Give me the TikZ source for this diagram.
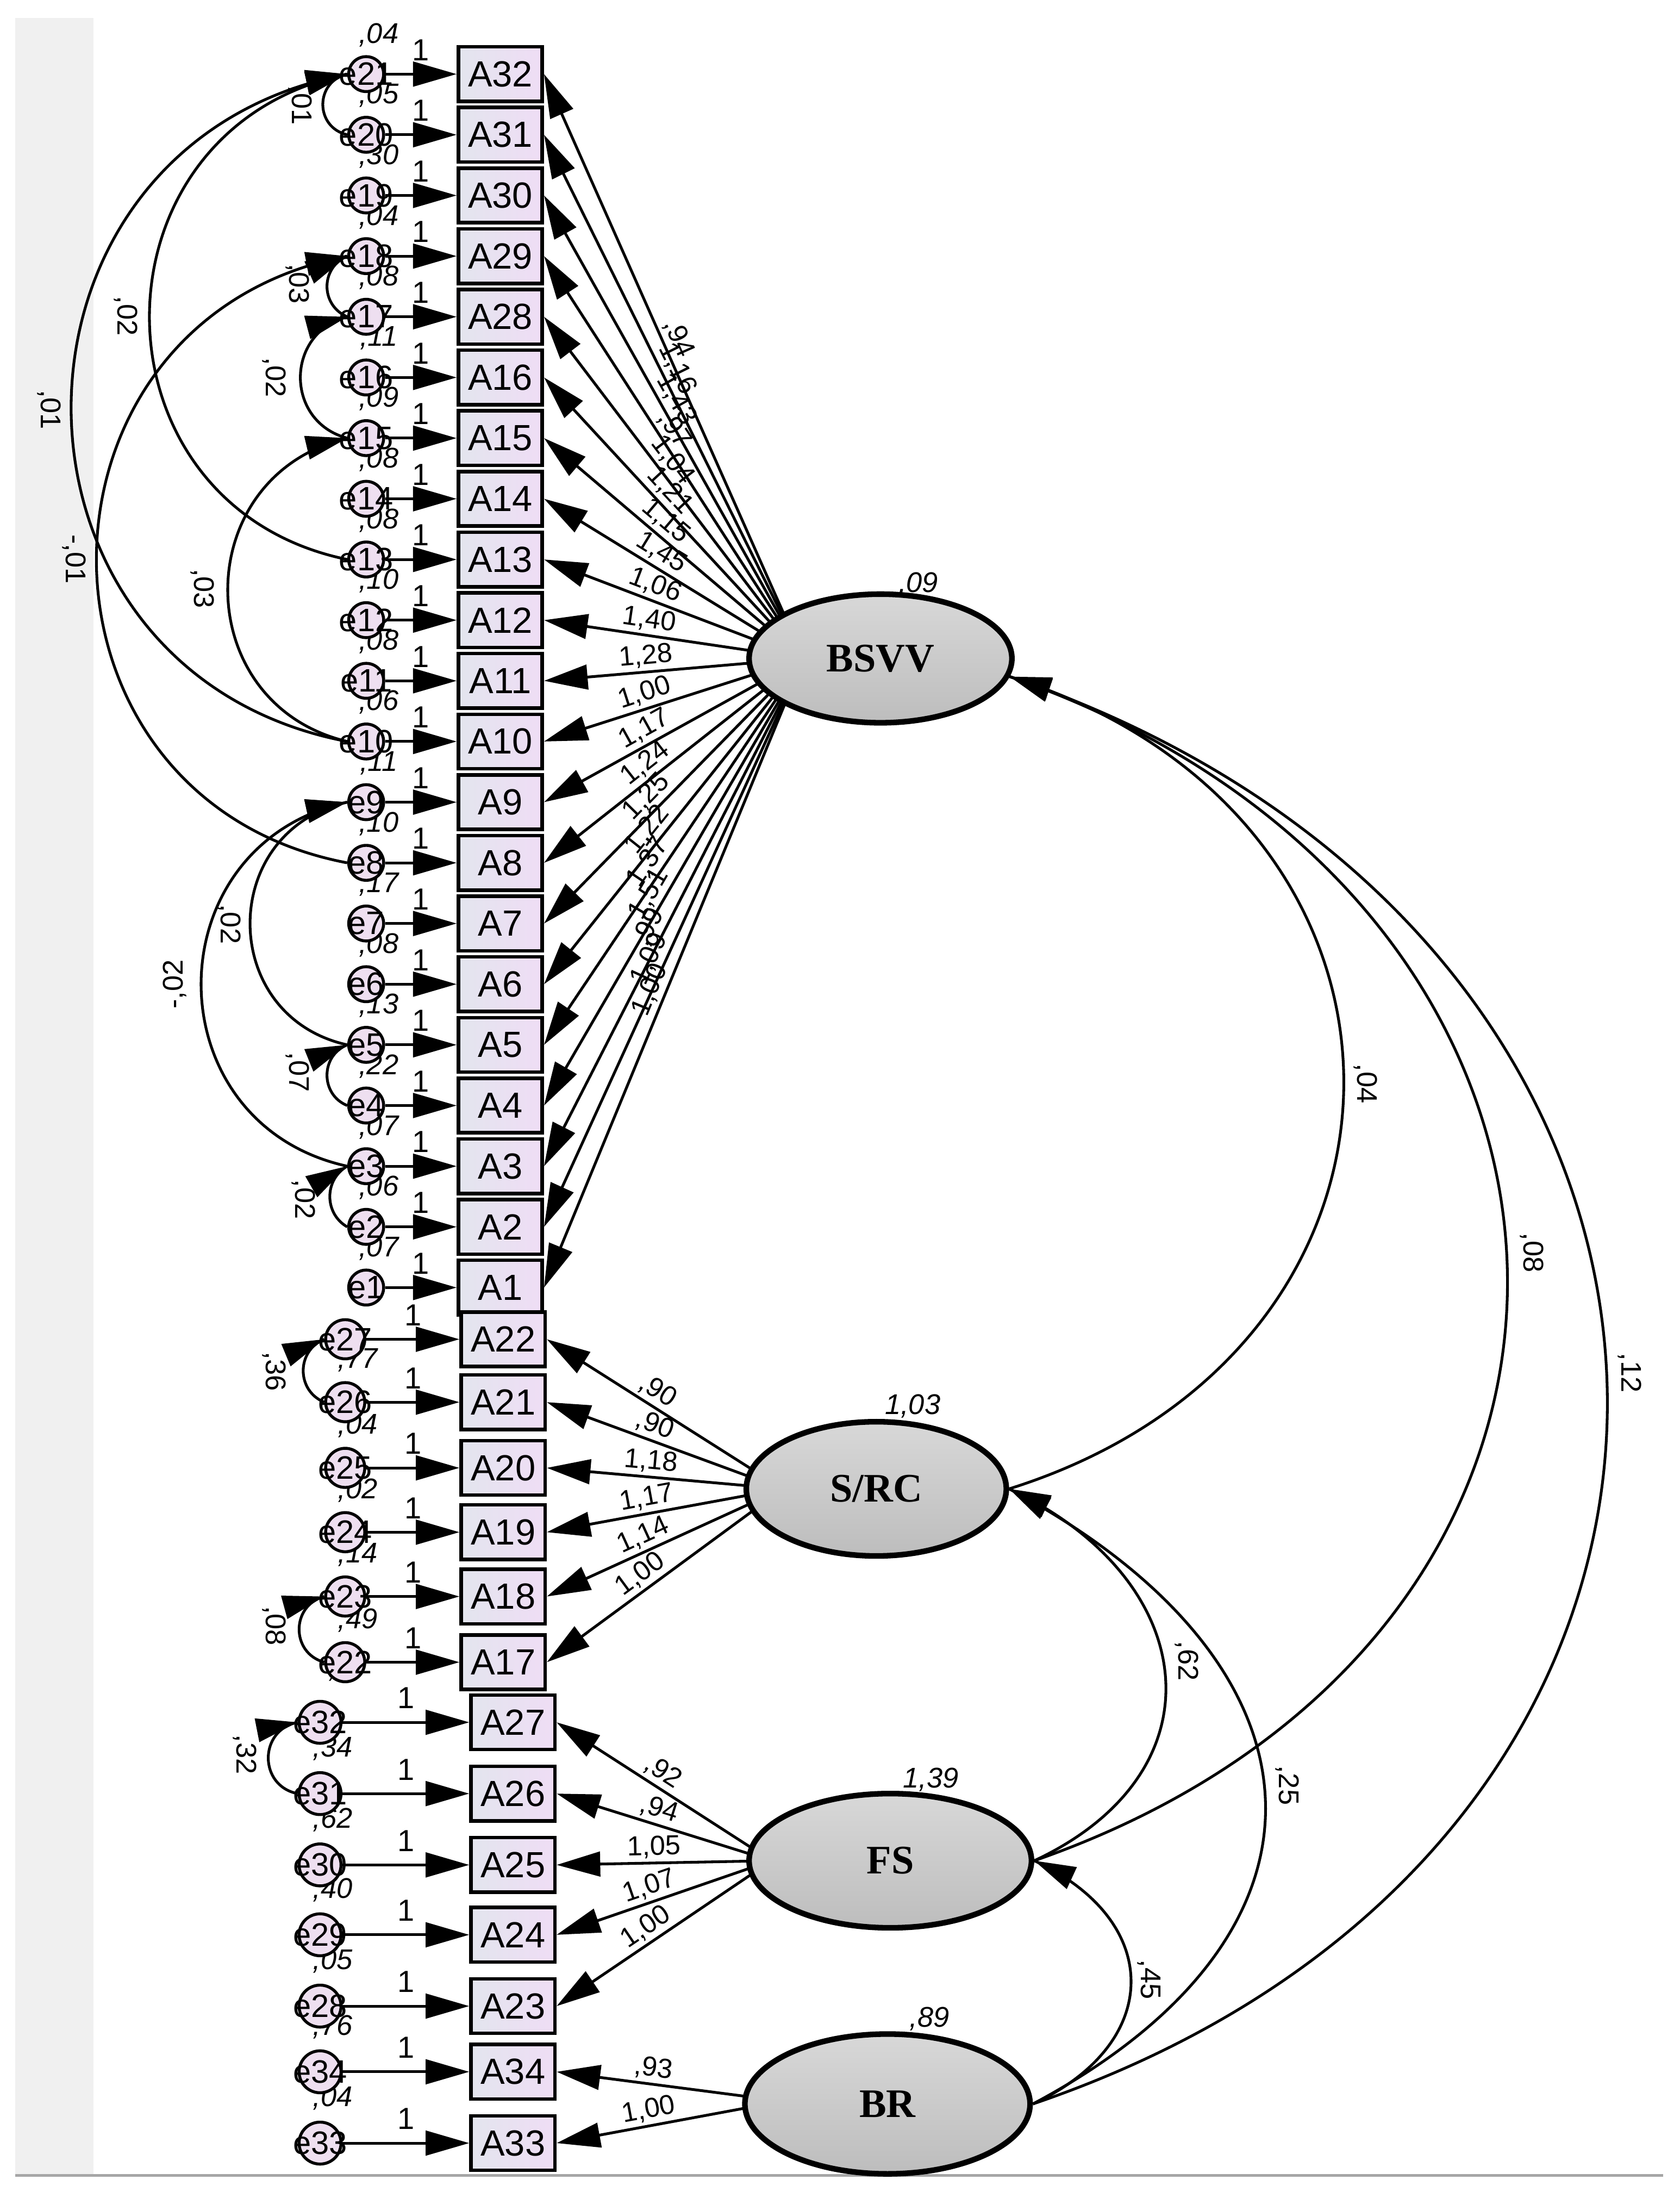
\documentclass[tikz,border=0pt]{standalone}
\usepackage{fontspec}
\setmainfont{Liberation Sans}
\newfontfamily\lserif{Liberation Serif}
\usetikzlibrary{arrows.meta,shapes.geometric,decorations.markings}
\pgfdeclarelayer{bg}
\pgfsetlayers{bg,main}
\definecolor{stripgray}{HTML}{F0F0F0}
\definecolor{boxL}{HTML}{E3E5EE}
\definecolor{boxR}{HTML}{EFDDF5}
\definecolor{errfill}{HTML}{EEDFF0}
\definecolor{latTop}{HTML}{D8D8D8}
\definecolor{latBot}{HTML}{BDBDBD}
\newcommand\fsz[1]{\fontsize{#1}{#1}\selectfont}
% #1 box, #2 error, #3 box x, #4 y, #5 circle x, #6 circle size, #7 variance, #8 variance dy
\newcommand\obsrow[8]{%
  \node[obsbox] (#1) at (#3,#4) {#1};
  \begin{pgfonlayer}{bg}\node[varlab] at (#5+9,#4-#8) {#7};\end{pgfonlayer}
  \node[errc, minimum size=#6] (#2) at (#5,#4) {};
  \node[errtxt] at (#5,#4) {#2};
  \draw[arr] (#2) -- (#1) node[onelab] {1};
}
\tikzset{
  tipA/.tip={Triangle[length=0.78cm,width=0.44cm]},
  arr/.style={line width=1.4pt,-{tipA}},
  obsbox/.style={draw,line width=1.8pt,minimum width=1.5cm,minimum height=0.975cm,inner sep=0pt,
     left color=boxL,right color=boxR,font=\fsz{18.5pt}},
  errc/.style={circle,draw,line width=1.5pt,fill=errfill,inner sep=0pt},
  errtxt/.style={font=\fsz{16.5pt},inner sep=0pt},
  varlab/.style={font=\fsz{14.5pt}\itshape,inner sep=0pt},
  onelab/.style={font=\fsz{15.5pt},anchor=south,inner sep=0pt,yshift=0.22cm,pos=0.5},
  loadlab/.style={font=\fsz{14pt},sloped,above,inner sep=1.5pt},
  latent/.style={ellipse,draw,line width=2.85pt,top color=latTop,bottom color=latBot,
     font=\lserif\bfseries\fsz{20.6pt},inner sep=0pt},
  covlab/.style={font=\fsz{14.5pt},inner sep=0pt},
  cov/.style={line width=1.4pt,postaction={decorate},
     decoration={markings,
       mark=at position 0 with {\arrowreversed{Triangle[length=0.74cm,width=0.42cm]}},
       mark=at position 1 with {\arrow{Triangle[length=0.74cm,width=0.42cm]}}}}
}
\begin{document}
\begin{tikzpicture}[x=0.025cm,y=-0.025cm]
\useasboundingbox (0,0) rectangle (1202,1568);
\fill[stripgray] (11,13) rectangle (67,1556);
\draw[gray!70,line width=1.4pt] (11,1556) -- (1190,1556);

% ---- BSVV indicators
\obsrow{A32}{e21}{358}{53}{262}{0.625cm}{,04}{28}
\obsrow{A31}{e20}{358}{96.4}{262}{0.625cm}{,05}{28}
\obsrow{A30}{e19}{358}{139.8}{262}{0.625cm}{,30}{28}
\obsrow{A29}{e18}{358}{183.2}{262}{0.625cm}{,04}{28}
\obsrow{A28}{e17}{358}{226.6}{262}{0.625cm}{,08}{28}
\obsrow{A16}{e16}{358}{270}{262}{0.625cm}{,11}{28}
\obsrow{A15}{e15}{358}{313.4}{262}{0.625cm}{,09}{28}
\obsrow{A14}{e14}{358}{356.8}{262}{0.625cm}{,08}{28}
\obsrow{A13}{e13}{358}{400.2}{262}{0.625cm}{,08}{28}
\obsrow{A12}{e12}{358}{443.6}{262}{0.625cm}{,10}{28}
\obsrow{A11}{e11}{358}{487}{262}{0.625cm}{,08}{28}
\obsrow{A10}{e10}{358}{530.4}{262}{0.625cm}{,06}{28}
\obsrow{A9}{e9}{358}{573.8}{262}{0.625cm}{,11}{28}
\obsrow{A8}{e8}{358}{617.2}{262}{0.625cm}{,10}{28}
\obsrow{A7}{e7}{358}{660.6}{262}{0.625cm}{,17}{28}
\obsrow{A6}{e6}{358}{704}{262}{0.625cm}{,08}{28}
\obsrow{A5}{e5}{358}{747.4}{262}{0.625cm}{,13}{28}
\obsrow{A4}{e4}{358}{790.8}{262}{0.625cm}{,22}{28}
\obsrow{A3}{e3}{358}{834.2}{262}{0.625cm}{,07}{28}
\obsrow{A2}{e2}{358}{877.6}{262}{0.625cm}{,06}{28}
\obsrow{A1}{e1}{358}{921}{262}{0.625cm}{,07}{28}
% ---- S/RC indicators
\obsrow{A22}{e27}{360}{958}{247}{0.7cm}{,}{30}
\obsrow{A21}{e26}{360}{1003}{247}{0.7cm}{,77}{30}
\obsrow{A20}{e25}{360}{1050}{247}{0.7cm}{,04}{30}
\obsrow{A19}{e24}{360}{1096}{247}{0.7cm}{,02}{30}
\obsrow{A18}{e23}{360}{1142}{247}{0.7cm}{,14}{30}
\obsrow{A17}{e22}{360}{1189}{247}{0.7cm}{,49}{30}
% ---- FS and BR indicators
\obsrow{A27}{e32}{367}{1232}{229}{0.75cm}{,}{32}
\obsrow{A26}{e31}{367}{1283}{229}{0.75cm}{,34}{32}
\obsrow{A25}{e30}{367}{1334}{229}{0.75cm}{,62}{32}
\obsrow{A24}{e29}{367}{1384}{229}{0.75cm}{,40}{32}
\obsrow{A23}{e28}{367}{1435}{229}{0.75cm}{,05}{32}
\obsrow{A34}{e34}{367}{1482}{229}{0.75cm}{,76}{32}
\obsrow{A33}{e33}{367}{1533}{229}{0.75cm}{,04}{32}

% ---- loadings
\coordinate (sB) at (575,471);
\coordinate (sS) at (560,1065);
\coordinate (sF) at (552,1331);
\coordinate (sR) at (560,1503);
\foreach \b/\p/\t in {A32/0.537/{,94},A31/0.54/{1,16},A30/0.543/{1,43},A29/0.548/{,97},
  A28/0.553/{1,04},A16/0.56/{1,21},A15/0.57/{1,15},A14/0.58/{1,45},A13/0.593/{1,06},
  A12/0.603/{1,40},A11/0.603/{1,28},A10/0.595/{1,00},A9/0.585/{1,17},A8/0.573/{1,24},
  A7/0.563/{1,25},A6/0.555/{1,22},A5/0.55/{1,37},A4/0.545/{1,51},A3/0.543/{,99},
  A2/0.54/{1,09},A1/0.536/{1,00}}
  \draw[arr] (sB) -- (\b.east) node[loadlab,pos=\p] {\t};
\foreach \b/\t in {A22/{,90},A21/{,90},A20/{1,18},A19/{1,17},A18/{1,14},A17/{1,00}}
  \draw[arr] (sS) -- (\b.east) node[loadlab,pos=0.565] {\t};
\foreach \b/\t in {A27/{,92},A26/{,94},A25/{1,05},A24/{1,07},A23/{1,00}}
  \draw[arr] (sF) -- (\b.east) node[loadlab,pos=0.545] {\t};
\foreach \b/\t in {A34/{,93},A33/{1,00}}
  \draw[arr] (sR) -- (\b.east) node[loadlab,pos=0.58] {\t};

% ---- latent variables
\node[latent,minimum width=4.7cm,minimum height=2.3cm] (BSVV) at (630,471) {BSVV};
\node[latent,minimum width=4.65cm,minimum height=2.4cm] (SRC) at (627,1065) {S/RC};
\node[latent,minimum width=5.05cm,minimum height=2.4cm] (FS) at (637,1331) {FS};
\node[latent,minimum width=5.1cm,minimum height=2.5cm] (BR) at (635,1505) {BR};
\node[varlab] at (657,418) {,09};
\node[varlab] at (653,1006) {1,03};
\node[varlab] at (666,1273) {1,39};
\node[varlab] at (665,1444) {,89};

% ---- covariances between latents
\draw[cov] (BSVV.-8) .. controls +(319,100) and +(319,-100) .. (SRC.east);
\draw[cov] (BSVV.-8) .. controls +(463,161) and +(463,-161) .. (FS.east);
\draw[cov] (BSVV.-8) .. controls +(559,190) and +(559,-190) .. (BR.east);
\draw[cov] (SRC.east) .. controls +(137,64) and +(137,-64) .. (FS.east);
\draw[cov] (SRC.east) .. controls +(233,124) and +(233,-124) .. (BR.east);
\draw[cov] (FS.east) .. controls +(93,43) and +(93,-43) .. (BR.east);
\node[covlab,rotate=-90] at (977,775) {,04};
\node[covlab,rotate=-90] at (1096,896) {,08};
\node[covlab,rotate=-90] at (1166,982) {,12};
\node[covlab,rotate=-90] at (849,1188) {,62};
\node[covlab,rotate=-90] at (921,1277) {,25};
\node[covlab,rotate=-90] at (822,1416) {,45};

% ---- covariances between errors
\draw[cov] (e21.west) .. controls +(-23.3,5.4) and +(-23.3,-5.4) .. (e20.west);
\draw[cov] (e21.west) .. controls +(-188.7,38.7) and +(-188.7,-38.7) .. (e13.west);
\draw[cov] (e21.west) .. controls +(-263.4,50.2) and +(-263.4,-50.2) .. (e10.west);
\draw[cov] (e18.west) .. controls +(-239.3,45.6) and +(-239.3,-45.6) .. (e8.west);
\draw[cov] (e18.west) .. controls +(-19.3,8.3) and +(-19.3,-8.3) .. (e17.west);
\draw[cov] (e17.west) .. controls +(-44.7,11.8) and +(-44.7,-11.8) .. (e15.west);
\draw[cov] (e15.west) .. controls +(-114,27) and +(-114,-27) .. (e10.west);
\draw[cov] (e9.west) .. controls +(-92.7,20.5) and +(-92.7,-20.5) .. (e5.west);
\draw[cov] (e9.west) .. controls +(-139.4,30.6) and +(-139.4,-30.6) .. (e3.west);
\draw[cov] (e5.west) .. controls +(-19.3,7.8) and +(-19.3,-7.8) .. (e4.west);
\draw[cov] (e3.west) .. controls +(-16.6,9.5) and +(-16.6,-9.5) .. (e2.west);
\draw[cov] (e27.west) .. controls +(-20,8.3) and +(-20,-8.3) .. (e26.west);
\draw[cov] (e23.west) .. controls +(-23.9,6.5) and +(-23.9,-6.5) .. (e22.west);
\draw[cov] (e32.west) .. controls +(-28,5.5) and +(-28,-5.5) .. (e31.west);
\node[covlab,rotate=-90] at (215,75) {,01};
\node[covlab,rotate=-90] at (90,226) {,02};
\node[covlab,rotate=-90] at (35,293) {,01};
\node[covlab,rotate=-90] at (53,400) {-,01};
\node[covlab,rotate=-90] at (213,203) {,03};
\node[covlab,rotate=-90] at (196,270) {,02};
\node[covlab,rotate=-90] at (145,421) {,03};
\node[covlab,rotate=-90] at (164,661) {,02};
\node[covlab,rotate=90] at (125,704) {-,02};
\node[covlab,rotate=-90] at (213,767) {,07};
\node[covlab,rotate=-90] at (217,858) {,02};
\node[covlab,rotate=-90] at (196,981) {,36};
\node[covlab,rotate=-90] at (196,1163) {,08};
\node[covlab,rotate=-90] at (175,1255) {,32};
\end{tikzpicture}
\end{document}
